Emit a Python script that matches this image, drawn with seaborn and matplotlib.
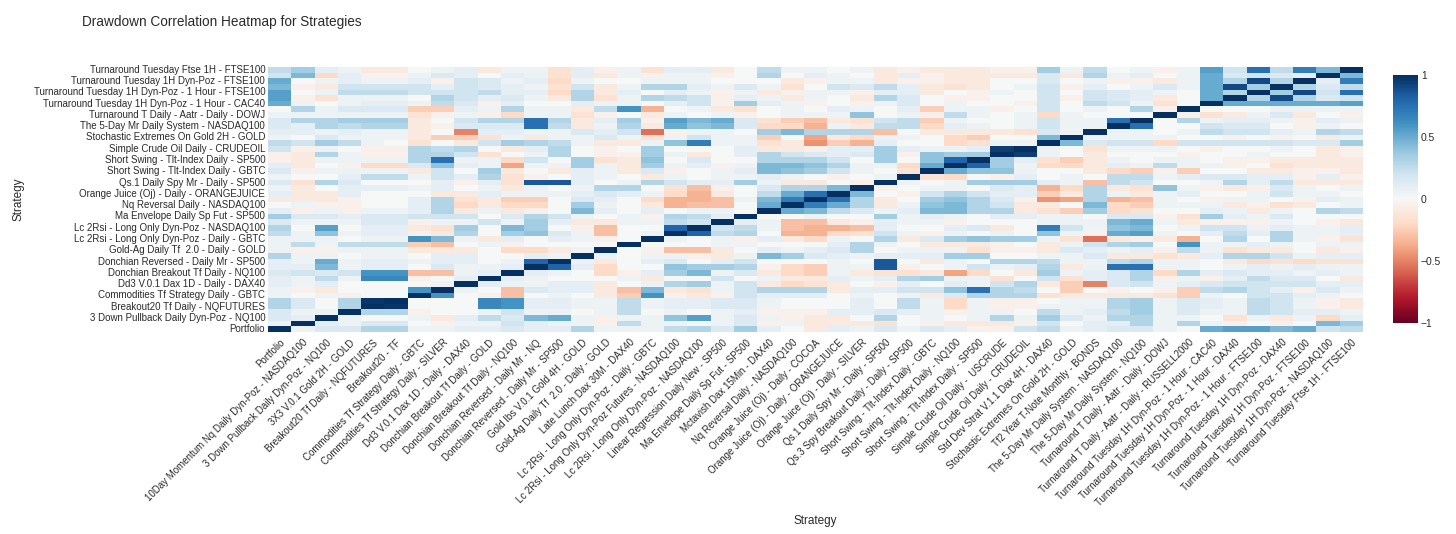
import numpy as np
import pandas as pd
import matplotlib
matplotlib.use("Agg")
import matplotlib.pyplot as plt
import seaborn as sns

# strategy names, index 0 = Portfolio (bottom row / left column)
strategies = [
    "Portfolio",
    "10Day Momentum Nq Daily Dyn-Poz - NASDAQ100",
    "3 Down Pullback Daily Dyn-Poz - NQ100",
    "3X3 V.0.1 Gold 2H - GOLD",
    "Breakout20 Tf Daily - NQFUTURES",
    "Breakout20 - TF",
    "Commodities Tf Strategy Daily - GBTC",
    "Commodities Tf Strategy Daily - SILVER",
    "Dd3 V.0.1 Dax 1D - Daily - DAX40",
    "Donchian Breakout Tf Daily - GOLD",
    "Donchian Breakout Tf Daily - NQ100",
    "Donchian Reversed - Daily Mr - NQ",
    "Donchian Reversed - Daily Mr - SP500",
    "Gold Ibs V.0.1 Gold 4H - GOLD",
    "Gold-Ag Daily Tf  2.0 - Daily - GOLD",
    "Late Lunch Dax 30M - DAX40",
    "Lc 2Rsi - Long Only Dyn-Poz - Daily - GBTC",
    "Lc 2Rsi - Long Only Dyn-Poz Futures - NASDAQ100",
    "Lc 2Rsi - Long Only Dyn-Poz - NASDAQ100",
    "Linear Regression Daily New - SP500",
    "Ma Envelope Daily Sp Fut - SP500",
    "Mctavish Dax 15Min - DAX40",
    "Nq Reversal Daily - NASDAQ100",
    "Orange Juice (Oj) - Daily - COCOA",
    "Orange Juice (Oj) - Daily - ORANGEJUICE",
    "Orange Juice (Oj) - Daily - SILVER",
    "Qs.1 Daily Spy Mr - Daily - SP500",
    "Qs.3 Spy Breakout Daily - Daily - SP500",
    "Short Swing - Tlt-Index Daily - GBTC",
    "Short Swing - Tlt-Index Daily - NQ100",
    "Short Swing - Tlt-Index Daily - SP500",
    "Simple Crude Oil Daily -  USCRUDE",
    "Simple Crude Oil Daily - CRUDEOIL",
    "Std Dev Strat V.1.1 Dax 4H - DAX40",
    "Stochastic Extremes On Gold 2H - GOLD",
    "Tf2 Year T-Note Monthly - BONDS",
    "The 5-Day Mr Daily System - NASDAQ100",
    "The 5-Day Mr Daily System - NQ100",
    "Turnaround T Daily - Aatr - Daily - DOWJ",
    "Turnaround T Daily - Aatr - Daily - RUSSELL2000",
    "Turnaround Tuesday 1H Dyn-Poz - 1 Hour - CAC40",
    "Turnaround Tuesday 1H Dyn-Poz - 1 Hour - DAX40",
    "Turnaround Tuesday 1H Dyn-Poz - 1 Hour - FTSE100",
    "Turnaround Tuesday 1H Dyn-Poz - DAX40",
    "Turnaround Tuesday 1H Dyn-Poz - FTSE100",
    "Turnaround Tuesday 1H Dyn-Poz - NASDAQ100",
    "Turnaround Tuesday Ftse 1H - FTSE100",
]

# lower triangle of the drawdown correlation matrix, row r holds corr(r, 0..r-1)
tri_rows = [
    [0.05],
    [0.15, 0.1],
    [0.15, 0.05, 0.05],
    [0.3, 0.15, 0.0, 0.3],
    [0.3, 0.15, 0.0, 0.3, 0.97],
    [0.05, 0.0, 0.05, -0.05, 0.0, 0.0],
    [0.05, -0.05, -0.1, 0.0, 0.0, 0.0, 0.6],
    [0.1, 0.05, 0.1, 0.0, 0.0, 0.0, 0.0, 0.05],
    [0.1, 0.05, 0.25, 0.05, 0.65, 0.65, -0.05, 0.0, 0.1],
    [0.15, 0.2, 0.15, 0.2, 0.6, 0.6, -0.3, -0.3, 0.05, 0.1],
    [0.1, 0.1, 0.45, 0.05, 0.1, 0.1, 0.0, 0.15, 0.05, 0.05, 0.1],
    [0.1, 0.05, 0.5, 0.05, 0.1, 0.1, 0.05, 0.1, 0.1, 0.0, 0.05, 0.8],
    [0.3, 0.05, 0.05, 0.0, 0.05, 0.05, 0.0, 0.1, 0.1, 0.0, 0.0, 0.1, 0.05],
    [0.05, -0.05, -0.05, 0.05, 0.05, 0.05, -0.1, -0.1, -0.1, 0.0, -0.2, -0.2, -0.1, 0.05],
    [0.05, 0.25, 0.05, 0.25, 0.25, 0.25, -0.25, -0.3, 0.0, 0.05, -0.05, 0.0, 0.0, 0.0, 0.0],
    [0.05, 0.05, 0.05, 0.0, 0.05, 0.05, 0.6, 0.45, 0.05, -0.1, 0.1, 0.0, 0.1, 0.05, -0.05, 0.0],
    [0.25, 0.05, 0.4, 0.05, 0.1, 0.1, -0.05, -0.1, 0.3, 0.0, 0.35, 0.4, 0.15, 0.05, -0.3, 0.0,
     0.05],
    [0.3, 0.0, 0.55, 0.0, 0.1, 0.1, -0.1, -0.15, 0.35, 0.0, 0.45, 0.35, 0.0, -0.05, -0.3, 0.0,
     0.0, 0.8],
    [0.15, 0.05, 0.05, 0.05, 0.15, 0.15, -0.05, 0.05, 0.05, 0.2, 0.05, 0.35, 0.1, -0.1, -0.1, 0.05,
     0.05, 0.25, 0.2],
    [0.35, 0.15, 0.15, 0.1, 0.15, 0.15, 0.2, 0.2, 0.2, 0.0, 0.15, 0.3, 0.2, 0.05, 0.0, 0.05,
     -0.05, 0.3, 0.25, 0.1],
    [0.1, -0.05, 0.05, -0.05, 0.05, 0.05, 0.1, 0.3, -0.1, 0.05, -0.1, -0.05, 0.0, 0.45, 0.1, 0.0,
     0.1, 0.0, 0.05, 0.05, 0.0],
    [0.0, 0.05, -0.05, -0.05, 0.0, 0.0, 0.1, 0.3, -0.2, -0.1, -0.2, -0.2, 0.0, 0.35, 0.05, 0.0,
     -0.1, -0.35, -0.3, -0.3, 0.0, 0.5],
    [-0.1, -0.1, -0.1, -0.05, 0.0, 0.0, 0.1, 0.3, -0.15, -0.1, -0.25, -0.25, 0.0, 0.15, 0.1, 0.0,
     -0.2, -0.35, -0.35, -0.3, 0.05, 0.45, 0.7],
    [0.1, -0.1, -0.1, 0.1, 0.0, 0.0, 0.0, -0.1, -0.1, 0.1, 0.05, 0.05, 0.05, 0.1, 0.15, 0.1,
     0.05, -0.2, -0.35, -0.1, 0.0, 0.25, 0.5, 0.75],
    [0.05, -0.1, 0.0, 0.1, 0.1, 0.1, 0.05, 0.1, 0.0, 0.05, -0.1, 0.05, 0.0, 0.05, 0.3, 0.3,
     0.0, -0.15, -0.3, -0.05, 0.0, 0.15, 0.3, 0.3, 0.45],
    [0.15, -0.15, 0.3, 0.15, 0.0, 0.0, 0.0, 0.1, -0.05, 0.1, -0.15, 0.85, 0.85, 0.1, 0.0, 0.05,
     0.3, 0.2, 0.1, 0.1, 0.35, 0.05, -0.1, -0.1, 0.0, -0.05],
    [0.05, 0.0, 0.0, 0.1, 0.25, 0.25, 0.05, 0.2, 0.1, 0.3, -0.15, -0.05, 0.0, 0.1, 0.05, 0.0,
     -0.1, 0.05, 0.0, 0.05, 0.05, 0.1, 0.05, 0.0, -0.05, 0.0, 0.05],
    [0.15, -0.05, 0.05, 0.05, 0.05, 0.05, -0.1, 0.2, 0.0, 0.35, -0.1, 0.0, -0.1, 0.1, 0.05, -0.1,
     0.15, -0.05, 0.0, 0.05, 0.1, 0.45, 0.4, 0.35, 0.2, 0.05, 0.0, -0.15],
    [0.1, -0.1, 0.0, -0.05, -0.2, -0.2, 0.15, 0.4, 0.1, 0.05, -0.4, 0.05, 0.05, 0.35, 0.05, -0.1,
     0.35, 0.05, 0.1, -0.05, 0.05, 0.45, 0.45, 0.4, 0.3, 0.05, 0.05, -0.2, 0.5],
    [-0.05, -0.1, 0.05, 0.05, 0.05, 0.05, 0.3, 0.75, 0.05, 0.05, -0.2, 0.2, 0.0, 0.35, -0.15, -0.1,
     0.4, 0.0, 0.15, 0.0, 0.0, 0.3, 0.3, 0.3, 0.2, 0.0, 0.35, 0.0, 0.4, 0.8],
    [-0.05, -0.1, 0.3, 0.05, -0.05, -0.05, 0.3, 0.3, 0.2, -0.15, 0.0, 0.05, 0.3, 0.0, -0.05, -0.05,
     0.35, 0.05, -0.1, 0.0, 0.1, 0.3, 0.2, 0.15, 0.1, 0.15, 0.35, -0.05, 0.4, 0.35, 0.35],
    [0.2, -0.05, 0.05, 0.0, -0.05, -0.05, 0.3, 0.25, 0.3, 0.0, -0.1, 0.1, 0.3, 0.0, -0.05, 0.0,
     0.35, 0.0, 0.0, 0.0, 0.1, -0.1, -0.1, -0.05, 0.1, 0.1, 0.35, 0.1, 0.05, 0.05, 0.1, 0.95],
    [0.25, 0.2, 0.35, 0.25, 0.05, 0.0, -0.15, 0.0, -0.1, 0.2, 0.35, 0.3, 0.25, 0.05, -0.1, -0.1,
     0.05, 0.4, 0.7, 0.05, 0.05, -0.15, -0.1, -0.45, -0.25, -0.35, 0.1, 0.0, 0.0, -0.2, -0.15, 0.05,
     0.05],
    [0.05, 0.0, 0.15, 0.05, 0.05, 0.05, -0.1, -0.25, -0.25, -0.15, 0.05, -0.1, 0.05, 0.05, 0.15, 0.05,
     -0.15, 0.05, 0.2, 0.05, 0.05, -0.25, 0.0, -0.4, -0.1, -0.2, 0.05, 0.05, 0.0, -0.2, -0.25, 0.0,
     0.0, 0.45],
    [0.1, 0.1, 0.05, 0.1, 0.05, 0.05, -0.1, 0.0, -0.5, 0.1, 0.1, 0.05, 0.05, 0.15, 0.1, 0.2,
     -0.55, -0.05, 0.05, 0.05, 0.0, 0.35, 0.45, 0.3, 0.3, 0.3, -0.3, 0.0, -0.1, -0.1, -0.1, -0.1,
     -0.15, 0.15, 0.05],
    [0.15, 0.1, 0.3, 0.25, 0.3, 0.3, -0.1, -0.05, 0.15, 0.15, 0.15, 0.75, 0.25, -0.1, 0.05, 0.3,
     -0.1, 0.5, 0.4, 0.45, 0.15, -0.2, -0.2, -0.35, 0.05, -0.1, 0.25, 0.25, -0.2, 0.1, 0.05, 0.0,
     0.05, 0.2, 0.05, 0.05],
    [0.15, 0.3, 0.3, 0.35, 0.35, 0.35, -0.1, 0.0, 0.2, 0.3, 0.3, 0.75, 0.3, -0.1, 0.1, 0.35,
     -0.05, 0.55, 0.45, 0.5, 0.15, -0.15, -0.25, -0.3, -0.1, -0.15, 0.2, 0.25, -0.25, 0.05, 0.0, 0.0,
     0.05, 0.2, 0.05, 0.05, 0.75],
    [0.05, 0.05, 0.05, 0.05, 0.05, 0.05, -0.15, -0.05, 0.05, -0.05, -0.2, 0.05, 0.05, -0.15, -0.05, 0.0,
     -0.1, 0.05, 0.0, 0.05, -0.05, 0.0, 0.05, 0.05, 0.05, 0.4, 0.0, 0.05, -0.05, 0.25, 0.05, 0.0,
     0.05, -0.2, 0.05, 0.0, 0.0, 0.0],
    [0.0, 0.3, 0.05, 0.15, 0.15, 0.15, -0.25, -0.25, 0.1, 0.05, 0.3, 0.05, 0.05, -0.1, 0.25, 0.6,
     -0.35, 0.0, 0.05, -0.1, -0.15, 0.0, 0.05, 0.0, 0.1, 0.05, 0.0, 0.1, -0.25, 0.05, 0.05, -0.05,
     0.0, 0.2, 0.0, 0.05, 0.0, 0.3, -0.05],
    [0.5, 0.05, 0.0, 0.05, 0.1, 0.1, 0.05, 0.25, 0.15, -0.05, 0.1, 0.0, 0.0, 0.1, 0.05, 0.05,
     0.0, 0.1, 0.2, -0.05, 0.35, 0.1, 0.05, -0.05, 0.0, -0.05, 0.05, 0.15, 0.0, 0.05, 0.0, 0.0,
     -0.05, 0.2, 0.0, 0.25, 0.2, 0.05, -0.15, 0.0],
    [0.55, -0.05, -0.15, 0.05, 0.05, 0.05, 0.0, 0.3, 0.2, 0.1, 0.15, 0.05, -0.1, 0.3, -0.15, 0.05,
     0.3, 0.25, 0.2, -0.05, 0.1, 0.05, -0.1, 0.05, 0.0, -0.1, 0.3, 0.15, 0.0, -0.05, -0.05, 0.0,
     0.0, 0.2, -0.05, 0.2, 0.15, 0.1, -0.1, 0.0, 0.5],
    [0.55, 0.0, 0.05, 0.25, 0.25, 0.25, 0.2, 0.2, 0.2, 0.25, 0.1, 0.1, -0.2, 0.3, -0.1, 0.1,
     0.0, 0.1, 0.05, -0.05, 0.05, -0.1, -0.05, 0.05, 0.05, -0.05, 0.1, 0.1, -0.1, 0.0, -0.05, 0.05,
     0.0, 0.2, 0.0, 0.2, 0.15, 0.1, 0.05, 0.0, 0.5, 0.3],
    [0.45, -0.05, -0.1, 0.2, 0.2, 0.2, 0.2, 0.1, 0.2, 0.15, 0.1, 0.05, -0.15, 0.2, -0.1, 0.05,
     0.3, 0.3, 0.1, 0.05, 0.15, 0.05, -0.15, 0.0, 0.2, 0.15, 0.25, 0.1, -0.1, -0.15, -0.1, 0.0,
     0.05, 0.2, -0.05, 0.1, 0.0, 0.05, 0.15, 0.05, 0.5, 0.9, 0.35],
    [0.5, 0.0, 0.05, 0.1, 0.05, 0.05, 0.1, -0.05, 0.2, 0.15, 0.05, 0.1, -0.2, 0.05, 0.0, 0.0,
     0.05, 0.05, 0.05, 0.0, 0.0, 0.0, -0.1, -0.05, 0.05, 0.05, -0.1, -0.05, -0.05, -0.1, -0.1, 0.0,
     0.0, 0.15, 0.0, 0.05, -0.05, -0.05, -0.1, 0.05, 0.5, 0.3, 0.9, 0.3],
    [0.2, 0.45, -0.2, 0.1, -0.05, -0.05, 0.05, 0.15, 0.1, 0.0, 0.1, 0.05, -0.15, 0.1, -0.1, 0.05,
     -0.05, 0.05, 0.05, -0.05, 0.0, 0.3, 0.0, 0.1, 0.05, 0.0, -0.1, 0.1, -0.05, -0.1, -0.1, -0.1,
     -0.1, 0.15, -0.1, 0.3, 0.05, 0.1, 0.0, 0.05, 0.5, 0.15, 0.2, 0.15, 0.1],
    [0.25, 0.35, 0.1, 0.05, -0.1, -0.1, 0.0, 0.05, 0.1, -0.1, 0.05, 0.05, -0.15, 0.1, -0.05, 0.05,
     -0.15, 0.1, 0.1, -0.1, 0.0, 0.25, 0.05, 0.05, 0.0, 0.05, -0.1, -0.05, -0.1, -0.1, -0.1, -0.05,
     -0.05, 0.35, 0.05, 0.25, 0.0, 0.05, -0.05, 0.05, 0.55, 0.2, 0.75, 0.25, 0.7, 0.45],
]

# build the full symmetric matrix
n = len(strategies)
corr = np.eye(n)
for r, row in enumerate(tri_rows, start=1):
    assert len(row) == r, (r, len(row))
    corr[r, :r] = row
    corr[:r, r] = row

df = pd.DataFrame(corr, index=strategies, columns=strategies)
df_plot = df.iloc[::-1]  # Portfolio at the bottom like the original

sns.set_theme(style="white")
plt.rcParams['font.family'] = ['Liberation Sans', 'DejaVu Sans']
txt = '#2a2a2a'

fig = plt.figure(figsize=(14.56, 5.34), dpi=100)
ax = fig.add_axes([268 / 1456, 1 - 332 / 534, 1095 / 1456, 265 / 534])
cax = fig.add_axes([1393 / 1456, 1 - 323 / 534, 25 / 1456, 248 / 534])

sns.heatmap(df_plot, ax=ax, cbar_ax=cax, cmap="RdBu", vmin=-1, vmax=1,
            xticklabels=True, yticklabels=2, linewidths=0)

ax.tick_params(axis='both', length=0, labelsize=7.0, colors=txt)
ax.tick_params(axis='y', pad=2)
ax.tick_params(axis='x', pad=4)
plt.setp(ax.get_xticklabels(), rotation=45, ha='right', rotation_mode='anchor')
plt.setp(ax.get_yticklabels(), rotation=0)

ax.set_xlabel("Strategy", fontsize=8.5, color=txt)
ax.set_ylabel("Strategy", fontsize=8.5, color=txt)
ax.xaxis.set_label_coords(0.5, -0.69)
ax.yaxis.set_label_coords(-0.222, 0.5)

cbar = ax.collections[0].colorbar
cbar.set_ticks([-1, -0.5, 0, 0.5, 1])
cbar.set_ticklabels(["\u22121", "\u22120.5", "0", "0.5", "1"])
cbar.ax.tick_params(length=0, labelsize=7.4, colors=txt, pad=2)
cbar.outline.set_visible(False)

fig.text(82 / 1456, 1 - 22 / 534, "Drawdown Correlation Heatmap for Strategies",
         fontsize=9.8, color=txt, ha='left', va='center')

fig.savefig("out.png", dpi=100, facecolor='white')
